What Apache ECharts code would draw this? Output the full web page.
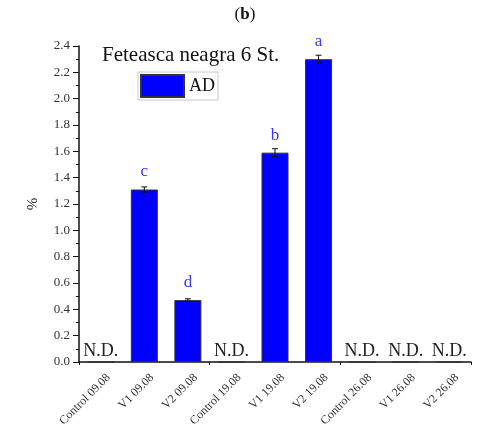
<!DOCTYPE html>
<html>
<head>
<meta charset="utf-8">
<script src="https://cdn.jsdelivr.net/npm/echarts@6/dist/echarts.min.js"></script>
<style>
html,body{margin:0;padding:0;background:#fff;}
#chart{width:490px;height:432px;}
</style>
</head>
<body>
<div id="chart"></div>
<script>
// Sample categories (treatment + sampling date)
var categories = ['Control 09.08', 'V1 09.08', 'V2 09.08', 'Control 19.08', 'V1 19.08', 'V2 19.08', 'Control 26.08', 'V1 26.08', 'V2 26.08'];
// AD content (%); null = not detected
var adValues = [null, 1.31, 0.47, null, 1.59, 2.30, null, null, null];
// Standard deviations for the error bars
var adErrors = [null, 0.02, 0.01, null, 0.03, 0.03, null, null, null];
// Significance letters above the bars
var letters = ['', 'c', 'd', '', 'b', 'a', '', '', ''];
var yTicks = { min: 0, max: 2.4, interval: 0.2 };

var serif = '"Liberation Serif", "DejaVu Serif", serif';

var barData = adValues.map(function (v, i) {
  if (v === null) {
    return {
      value: 0,
      label: { show: true, formatter: 'N.D.', position: 'top', distance: 1,
               color: '#222', fontSize: 18, fontFamily: serif }
    };
  }
  return {
    value: v,
    label: { show: true, formatter: letters[i], position: 'top', distance: 9,
             color: '#3535ff', fontSize: 17, fontFamily: serif }
  };
});

var errData = [];
adValues.forEach(function (v, i) {
  if (v !== null) errData.push([i, v, adErrors[i]]);
});

var chart = echarts.init(document.getElementById('chart'), null, { renderer: 'canvas' });
chart.setOption({
  animation: false,
  backgroundColor: '#fff',
  grid: { left: 79, right: 19, top: 46, bottom: 70 },
  legend: {
    data: ['AD'],
    left: 138, top: 72,
    padding: [2, 3, 2, 2],
    itemWidth: 43, itemHeight: 22,
    itemGap: 4,
    borderColor: '#c8c8c8', borderWidth: 1,
    icon: 'rect',
    textStyle: { fontSize: 18, fontFamily: serif, color: '#111', padding: [0, 0, 0, 0] }
  },
  graphic: [
    {
      type: 'text', left: 'center', top: 6,
      style: {
        text: '({b|b})',
        font: '17px ' + serif,
        fill: '#111',
        rich: { b: { fontWeight: 'bold', fontSize: 17, fontFamily: serif, fill: '#111' } }
      }
    },
    {
      type: 'text', left: 102, top: 45,
      style: { text: 'Feteasca neagra 6 St.', font: '21px ' + serif, fill: '#111' }
    }
  ],
  xAxis: [
    {
      type: 'category', data: categories,
      axisLine: { lineStyle: { color: '#111', width: 1.5 } },
      axisTick: { alignWithLabel: true, length: 5, lineStyle: { color: '#111' } },
      axisLabel: { rotate: 45, fontSize: 12, fontFamily: serif, color: '#333', margin: 6,
                   verticalAlign: 'top', padding: [5, 0, 0, 0] },
      splitLine: { show: false }
    },
    {
      type: 'category', data: categories, position: 'bottom',
      axisLine: { show: false },
      axisTick: { show: true, length: 3, lineStyle: { color: '#111' } },
      axisLabel: { show: false },
      splitLine: { show: false }
    }
  ],
  yAxis: {
    type: 'value', min: yTicks.min, max: yTicks.max, interval: yTicks.interval,
    name: '%', nameLocation: 'middle', nameGap: 38,
    nameTextStyle: { fontSize: 15, fontFamily: serif, color: '#333' },
    axisLine: { show: true, lineStyle: { color: '#111', width: 1.5 } },
    axisTick: { show: true, length: 6, lineStyle: { color: '#111' } },
    minorTick: { show: true, splitNumber: 2, length: 3, lineStyle: { color: '#111' } },
    axisLabel: { fontSize: 13, fontFamily: serif, color: '#333', margin: 9,
                 formatter: function (v) { return v.toFixed(1); } },
    splitLine: { show: false }
  },
  series: [
    {
      name: 'AD', type: 'bar', data: barData,
      barWidth: '62%',
      itemStyle: { color: '#0000ff', borderColor: '#333', borderWidth: 1 },
      z: 2
    },
    {
      type: 'custom', name: 'err',
      data: errData,
      z: 5,
      renderItem: function (params, api) {
        var x = api.value(0), v = api.value(1), e = api.value(2);
        var top = api.coord([x, v + e]);
        var bot = api.coord([x, v - e]);
        var hw = 3;
        var style = { stroke: '#111', lineWidth: 1 };
        return {
          type: 'group',
          children: [
            { type: 'line', shape: { x1: top[0], y1: top[1], x2: bot[0], y2: bot[1] }, style: style },
            { type: 'line', shape: { x1: top[0] - hw, y1: top[1], x2: top[0] + hw, y2: top[1] }, style: style },
            { type: 'line', shape: { x1: bot[0] - hw, y1: bot[1], x2: bot[0] + hw, y2: bot[1] }, style: style }
          ]
        };
      }
    }
  ]
});
</script>
</body>
</html>
